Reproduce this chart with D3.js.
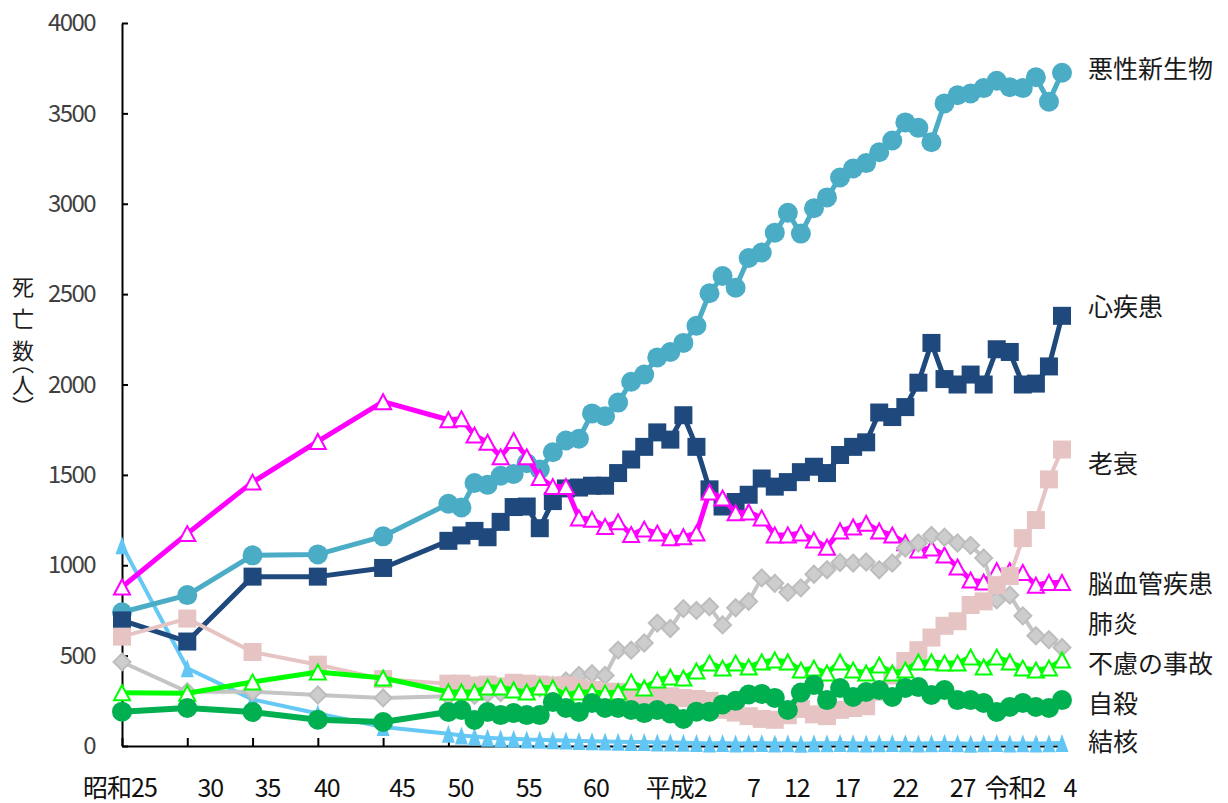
<!DOCTYPE html>
<html>
<head>
<meta charset="utf-8">
<script src="https://cdn.jsdelivr.net/npm/d3@7"></script>
<style>
  body { margin: 0; background: #fff; }
  svg { display: block; }
  text { font-family: "Noto Sans CJK JP", "Noto Sans", sans-serif; }
</style>
</head>
<body>
<svg id="chart" width="1228" height="803"></svg>
<script>
// years: 5-year steps up to 1970, yearly from 1975
var years = [1950,1955,1960,1965,1970,
  1975,1976,1977,1978,1979,1980,1981,1982,1983,1984,1985,1986,1987,1988,1989,
  1990,1991,1992,1993,1994,1995,1996,1997,1998,1999,2000,2001,2002,2003,2004,
  2005,2006,2007,2008,2009,2010,2011,2012,2013,2014,2015,2016,2017,2018,2019,
  2020,2021,2022];

var cancer = [740,835,1055,1060,1160,
  1340,1320,1455,1445,1495, 1505,1565,1530,1625,1690, 1700,1840,1825,1900,2015,
  2055,2150,2180,2230,2325, 2505,2600,2535,2700,2730, 2840,2950,2835,2975,3035,
  3145,3195,3225,3285,3350, 3450,3420,3340,3555,3600, 3610,3640,3680,3645,3640,
  3700,3565,3725];
var heart = [695,578,937,937,985,
  1135,1165,1190,1155,1240, 1322,1325,1205,1355,1425, 1430,1440,1440,1510,1585,
  1655,1735,1695,1830,1655, 1420,1325,1350,1390,1480, 1435,1460,1515,1545,1510,
  1610,1655,1680,1845,1820, 1875,2010,2230,2030,2000, 2055,2000,2195,2180,2000,
  2005,2100,2380];
var cerebro = [880,1175,1460,1685,1905,
  1805,1810,1720,1680,1600, 1690,1600,1485,1435,1435, 1262,1255,1215,1240,1170,
  1200,1178,1152,1158,1178, 1405,1372,1290,1295,1262, 1168,1168,1178,1140,1100,
  1190,1212,1232,1190,1167, 1125,1085,1095,1057,990, 918,907,970,970,960,
  890,905,905];
var pneumonia = [465,300,300,282,266,
  275,285,280,290,295, 320,310,320,335,360, 390,400,390,530,530,
  570,680,650,760,750, 770,670,765,800,930, 900,850,875,950,975,
  1015,1012,1018,975,1012, 1095,1123,1165,1155,1123, 1110,1040,808,835,720,
  610,588,545];
var senility = [605,705,520,450,370,
  345,345,335,340,330, 350,345,340,335,335, 320,310,300,300,290,
  280,285,275,265,260, 250,200,185,165,150, 145,170,205,175,165,
  200,210,220,300,390, 470,530,600,665,690, 780,800,890,940,1150,
  1250,1475,1640];
var accident = [295,292,354,409,376,
  299,299,299,326,326, 310,299,326,321,282, 299,299,293,299,354,
  321,365,382,376,415, 459,431,459,437,465, 476,465,420,431,404,
  465,420,404,448,404, 420,465,465,459,459, 492,437,492,465,431,
  420,431,476];
var suicide = [190,210,188,145,133,
  188,199,144,188,171, 182,171,171,243,210, 188,238,210,210,199,
  182,199,180,150,190, 190,230,250,285,288, 266,199,296,337,254,
  321,271,299,310,271, 321,326,282,310,254, 254,238,188,216,238,
  216,210,254];
var tb = [1110,430,258,180,105,
  68,58,52,46,42, 40,36,34,32,30, 28,26,25,24,22,
  22,20,20,18,17, 14,16,14,15,17, 14,15,12,15,15,
  17,15,14,15,17, 15,14,15,17,15, 12,15,17,14,15,
  14,15,17];

var tickYears = [1950,1955,1960,1965,1970,1975,1980,1985,1990,1995,2000,2005,2010,2015,2020,2022];
var tickLabels = ["昭和25","30","35","40","45","50","55","60","平成2","7","12","17","22","27","令和2","4"];
var yTicks = [0,500,1000,1500,2000,2500,3000,3500,4000];

// layout only (px): label nudges and right-hand name positions
var labelNudge = [-2,23,15,9,19,12,15,17,32,44,22,7,0,-8,-21,8];
var nameY = {"悪性新生物":67, "心疾患":305, "老衰":462, "脳血管疾患":582,
             "肺炎":622, "不慮の事故":662, "自殺":702, "結核":740};

// drawing order = Excel series order (later on top)
var series = [
  {name:"結核", values:tb, color:"#66C8F4", width:4, marker:"tri", size:13, tall:18, fill:"#62C6F4"},
  {name:"悪性新生物", values:cancer, color:"#4BACC6", width:5, marker:"circle", size:10, fill:"#4BACC6"},
  {name:"心疾患", values:heart, color:"#1F497D", width:5, marker:"square", size:18, fill:"#1F497D"},
  {name:"脳血管疾患", values:cerebro, color:"#FF00FF", width:5, marker:"tri", size:16, tall:15, fill:"#fff"},
  {name:"肺炎", values:pneumonia, color:"#C4C4C4", width:4, marker:"diamond", size:17, fill:"#CDCDCD"},
  {name:"老衰", values:senility, color:"#E6C4C4", width:4, marker:"square", size:18, fill:"#E6C4C4"},
  {name:"不慮の事故", values:accident, color:"#00FF00", width:5, marker:"tri", size:16, tall:15, fill:"#fff"},
  {name:"自殺", values:suicide, color:"#00B050", width:6, marker:"circle", size:10, fill:"#00B050"}
];

var svg = d3.select("#chart");
svg.append("rect").attr("width", 1228).attr("height", 803).attr("fill", "#fff");

var x = d3.scaleLinear().domain([1950, 2022]).range([122, 1062]);
var y = d3.scaleLinear().domain([0, 4000]).range([746, 23]);

// y axis
var gy = svg.append("g")
  .attr("transform", "translate(122,0)")
  .call(d3.axisLeft(y).tickValues(yTicks).tickFormat(d3.format("d"))
    .tickSizeInner(-6).tickSizeOuter(0).tickPadding(27));
gy.selectAll("path, line").attr("stroke", "#000").attr("stroke-width", 2);
gy.selectAll("text")
  .style("font-size", "24px")
  .attr("letter-spacing", "-1.6")
  .attr("fill", "#404040")
  .style("font-family", "'Noto Sans CJK JP', sans-serif");

// x axis
var gx = svg.append("g")
  .attr("transform", "translate(0,746)")
  .call(d3.axisBottom(x).tickValues(d3.range(1950, 2021, 5)).tickSizeInner(-8).tickSizeOuter(0).tickFormat(""));
gx.selectAll("path, line").attr("stroke", "#000").attr("stroke-width", 2);

svg.append("g").selectAll("text")
  .data(tickLabels)
  .enter().append("text")
    .attr("x", function(d, i) { return x(tickYears[i]) + labelNudge[i]; })
    .attr("y", 797)
    .attr("text-anchor", "middle")
    .attr("letter-spacing", "-1")
    .style("font-size", "25px")
    .attr("fill", "#111")
    .text(function(d) { return d; });

// y title, vertical writing
svg.append("text")
  .attr("x", 23).attr("y", 276)
  .style("writing-mode", "vertical-rl")
  .style("font-size", "22px")
  .attr("letter-spacing", "10")
  .attr("fill", "#222")
  .text("死亡数");
svg.append("text")
  .attr("x", 23).attr("y", 352)
  .style("writing-mode", "vertical-rl")
  .style("font-size", "22px")
  .attr("fill", "#222")
  .text("（人）");

var line = d3.line()
  .x(function(d) { return x(d.year); })
  .y(function(d) { return y(d.value); });

function markerPath(type, s, h) {
  if (type === "tri") {
    return "M0," + (-h / 2) + "L" + (s / 2) + "," + (h / 2) + "L" + (-s / 2) + "," + (h / 2) + "Z";
  }
  if (type === "diamond") {
    return "M0," + (-s / 2) + "L" + (s / 2) + ",0L0," + (s / 2) + "L" + (-s / 2) + ",0Z";
  }
  return null;
}

series.forEach(function(s) {
  var pts = years.map(function(yr, i) { return {year: yr, value: s.values[i]}; });
  var g = svg.append("g").attr("class", "series");
  g.append("path")
    .attr("d", line(pts))
    .attr("fill", "none")
    .attr("stroke", s.color)
    .attr("stroke-width", s.width)
    .attr("stroke-linejoin", "round");
  var m = g.selectAll(".m").data(pts).enter();
  if (s.marker === "circle") {
    m.append("circle")
      .attr("cx", function(d) { return x(d.year); })
      .attr("cy", function(d) { return y(d.value); })
      .attr("r", s.size)
      .attr("fill", s.fill);
  } else if (s.marker === "square") {
    m.append("rect")
      .attr("x", function(d) { return x(d.year) - s.size / 2; })
      .attr("y", function(d) { return y(d.value) - s.size / 2; })
      .attr("width", s.size).attr("height", s.size)
      .attr("fill", s.fill);
  } else {
    m.append("path")
      .attr("transform", function(d) { return "translate(" + x(d.year) + "," + y(d.value) + ")"; })
      .attr("d", markerPath(s.marker, s.size, s.tall))
      .attr("fill", s.fill)
      .attr("stroke", s.marker === "tri" && s.fill === "#fff" ? s.color : (s.marker === "diamond" ? "#BDBDBD" : "none"))
      .attr("stroke-width", 2);
  }
});

// series names at right
svg.append("g").selectAll("text")
  .data(series)
  .enter().append("text")
    .attr("x", 1088)
    .attr("y", function(d) { return nameY[d.name]; })
    .attr("dominant-baseline", "central")
    .style("font-size", "25px")
    .attr("fill", "#1a1a1a")
    .text(function(d) { return d.name; });
</script>
</body>
</html>
